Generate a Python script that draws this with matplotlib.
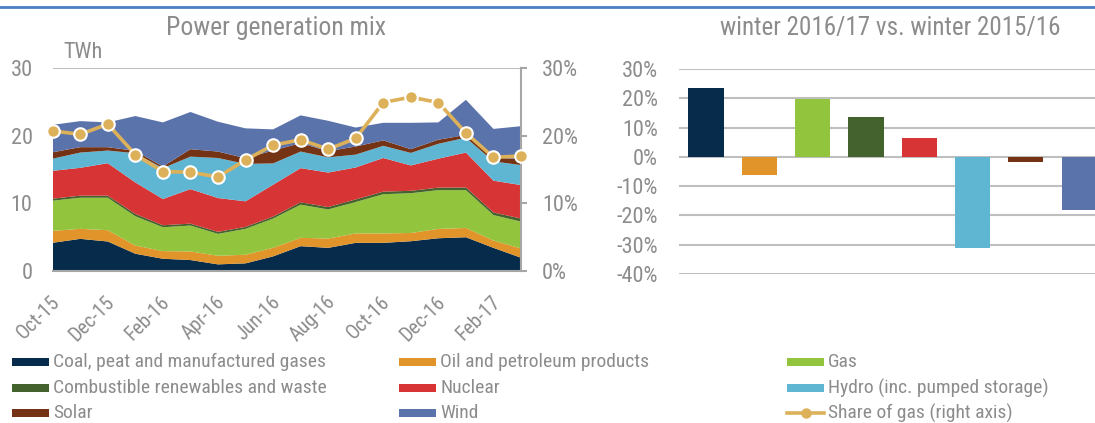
import matplotlib
matplotlib.use("Agg")
import matplotlib.pyplot as plt
from matplotlib import font_manager
from matplotlib.patches import Rectangle
from matplotlib.lines import Line2D
import matplotlib.transforms as mtransforms
import numpy as np

# ---- fonts ----
_names = {f.name for f in font_manager.fontManager.ttflist}
FONT = next((n for n in ["Roboto Condensed", "Archivo Narrow", "PT Sans Narrow",
                         "Liberation Sans"] if n in _names), "DejaVu Sans")
plt.rcParams["font.family"] = [FONT, "DejaVu Sans"]

# ---- data ----
months = ["Oct-15", "Nov-15", "Dec-15", "Jan-16", "Feb-16", "Mar-16", "Apr-16",
          "May-16", "Jun-16", "Jul-16", "Aug-16", "Sep-16", "Oct-16", "Nov-16",
          "Dec-16", "Jan-17", "Feb-17", "Mar-17"]

coal = [4.17, 4.75, 4.36, 2.55, 1.81, 1.62, 0.98, 1.13, 2.16, 3.67, 3.42, 4.16,
        4.16, 4.40, 4.84, 4.99, 3.42, 1.96]
oil = [1.76, 1.48, 1.67, 1.22, 1.13, 1.27, 1.27, 1.27, 1.27, 1.23, 1.38, 1.39,
       1.39, 1.22, 1.38, 1.37, 1.08, 1.37]
gas = [4.46, 4.60, 4.80, 4.32, 3.53, 3.83, 3.24, 3.83, 4.32, 4.90, 4.30, 4.65,
       5.80, 5.88, 5.73, 5.59, 3.77, 3.97]
combustible = [0.30, 0.30, 0.30, 0.34, 0.29, 0.28, 0.29, 0.29, 0.29, 0.35, 0.35,
               0.38, 0.38, 0.35, 0.37, 0.40, 0.38, 0.45]
nuclear = [4.11, 4.12, 4.80, 4.66, 3.88, 5.10, 5.00, 3.78, 4.71, 5.05, 5.10, 4.72,
           4.97, 3.75, 4.28, 5.15, 4.70, 4.95]
hydro = [1.80, 2.25, 1.87, 4.31, 4.56, 4.80, 5.92, 5.53, 3.15, 2.45, 2.25, 1.90,
         1.80, 1.85, 2.20, 2.20, 2.85, 2.95]
solar = [0.95, 0.80, 0.50, 0.35, 0.24, 1.10, 0.95, 0.84, 1.90, 1.25, 0.90, 1.20,
         0.80, 0.55, 0.60, 0.40, 0.60, 0.85]
wind = [4.05, 3.85, 3.66, 5.15, 6.52, 5.50, 4.41, 4.41, 3.13, 4.10, 4.50, 2.80,
        2.60, 3.90, 2.56, 5.20, 4.20, 4.90]
gas_share = [20.7, 20.2, 21.7, 17.2, 14.7, 14.6, 13.9, 16.4, 18.6, 19.4, 18.0,
             19.6, 24.9, 25.7, 24.9, 20.4, 16.8, 17.0]

series_names = ["Coal, peat and manufactured gases", "Oil and petroleum products",
                "Gas", "Combustible renewables and waste", "Nuclear",
                "Hydro (inc. pumped storage)", "Solar", "Wind"]
winter_change = [23.4, -6.1, 19.7, 13.5, 6.4, -31.0, -1.8, -18.1]

colors = ["#072b4b", "#e0942a", "#93c43d", "#44622e", "#d73535", "#5fb6d3",
          "#743314", "#5b73ab"]
share_color = "#dcb15a"
text_gray = "#8c8c8c"
grid_gray = "#bfbfbf"

W, H = 1095, 423
fig = plt.figure(figsize=(W / 100, H / 100), dpi=100)


def fx(px):
    return px / W


def fy(py):
    return 1 - py / H


# top rule
fig.add_artist(Line2D([0, 1], [fy(6.7), fy(6.7)], color="#4a7fc1", lw=2.0))

# ---- left: stacked areas ----
ax = fig.add_axes([fx(52.7), fy(271), fx(521 - 52.7), (271 - 68) / H])
x = np.arange(len(months))
ax.stackplot(x, coal, oil, gas, combustible, nuclear, hydro, solar, wind,
             colors=colors, lw=0)
ax.set_xlim(0, len(months) - 1)
ax.set_ylim(0, 30)
ax.set_yticks([0, 10, 20, 30])
ax.yaxis.grid(True, color=grid_gray, lw=1.5)
ax.set_axisbelow(True)
for s in ["top", "left", "right"]:
    ax.spines[s].set_visible(False)
ax.spines["bottom"].set_color("#a6a6a6")
ax.spines["bottom"].set_linewidth(1.5)
ax.spines["bottom"].set_zorder(5)
ax.tick_params(axis="y", length=0, pad=14.5, labelsize=16, labelcolor=text_gray)
ax.set_xticks(x[::2])
ax.set_xticklabels(months[::2], rotation=45, ha="right", va="center",
                   rotation_mode="anchor")
ax.tick_params(axis="x", length=0, pad=20, labelsize=14.5, labelcolor=text_gray)
shift = mtransforms.ScaledTranslation(4 / 100, 0, fig.dpi_scale_trans)
for lab in ax.get_xticklabels():
    lab.set_transform(lab.get_transform() + shift)

ax2 = ax.twinx()
ax2.set_ylim(0, 30)
ax2.set_yticks([0, 10, 20, 30])
ax2.set_yticklabels([f"{v}%" for v in [0, 10, 20, 30]])
for s in ["top", "left", "bottom"]:
    ax2.spines[s].set_visible(False)
ax2.spines["right"].set_color("#a6a6a6")
ax2.spines["right"].set_linewidth(1.5)
ax2.tick_params(axis="y", length=4, width=1.5, color="#a6a6a6", pad=11,
                labelsize=16, labelcolor=text_gray)
ax2.plot(x, gas_share, color=share_color, lw=2.6, marker="o", ms=9,
         mfc=share_color, mec="white", mew=1.5, clip_on=False, zorder=6)

fig.text(fx(275.5), fy(28), "Power generation mix", ha="center", va="center",
         fontsize=18.5, color=text_gray)
fig.text(fx(63), fy(52), "TWh", ha="left", va="center", fontsize=16,
         color=text_gray)

# ---- right: winter comparison bars ----
bx = fig.add_axes([fx(679.4), fy(274), fx(8 * 53.3), (274 - 69) / H])
bx.bar(np.arange(len(winter_change)), winter_change, width=0.66, color=colors,
       zorder=3)
bx.set_xlim(-0.5, len(winter_change) - 0.5)
bx.set_ylim(-40, 30)
ticks = list(range(-40, 31, 10))
bx.set_yticks(ticks)
bx.set_yticklabels([f"{t}%" for t in ticks])
bx.set_xticks([])
bx.yaxis.grid(True, color=grid_gray, lw=1.5)
bx.set_axisbelow(True)
for s in bx.spines.values():
    s.set_visible(False)
bx.tick_params(axis="y", length=0, pad=15.5, labelsize=16, labelcolor=text_gray)
fig.text(fx(890), fy(28), "winter 2016/17 vs. winter 2015/16", ha="center",
         va="center", fontsize=18, color=text_gray)

# ---- legend ----
col_x = [12, 399, 787]
row_y = [362, 388, 413]
patch_w, patch_h = 37, 8
legend_items = [(n, c) for n, c in zip(series_names, colors)] + [("Share of gas (right axis)", None)]
for i, (name, col) in enumerate(legend_items):
    r, c = divmod(i, 3)
    px, py = col_x[c], row_y[r]
    if col is not None:
        fig.add_artist(Rectangle((fx(px), fy(py + patch_h / 2)), fx(patch_w),
                                 patch_h / H, color=col, lw=0))
    else:
        fig.add_artist(Line2D([fx(px), fx(px + patch_w)], [fy(py), fy(py)],
                              color=share_color, lw=2.6, zorder=3))
        fig.add_artist(Line2D([fx(px + patch_w / 2)], [fy(py)], color=share_color,
                              marker="o", ms=9, mec="white", mew=1.5, lw=0))
    fig.text(fx(px + 41), fy(py), name, ha="left", va="center", fontsize=14,
             color=text_gray)

fig.savefig("out.png", dpi=100)
